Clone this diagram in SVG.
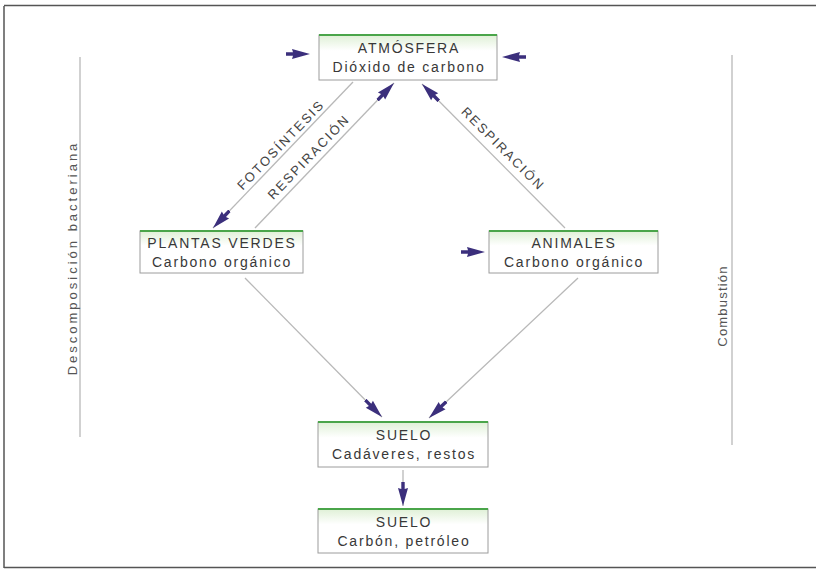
<svg xmlns="http://www.w3.org/2000/svg" width="816" height="570" viewBox="0 0 816 570">
<defs>
<linearGradient id="g" x1="0" y1="0" x2="0" y2="1">
<stop offset="0" stop-color="#dff0d6"/>
<stop offset="0.35" stop-color="#ffffff"/>
</linearGradient>
<marker id="ah" viewBox="0 0 24 12" refX="24" refY="6" markerWidth="24" markerHeight="12" markerUnits="userSpaceOnUse" orient="auto">
<path d="M0,4.3 L7,4.3 L6,1 L24,6 L6,11 L7,7.7 L0,7.7 Z" fill="#3b2f7c"/>
</marker>
</defs>
<style>
.box{fill:url(#g);stroke:#9c9c9c;stroke-width:1}
.top{stroke:#4aa54a;stroke-width:2}
.t{font-family:"Liberation Sans",Arial,sans-serif;font-size:14px;fill:#383838;text-anchor:middle;letter-spacing:1.8px}
.l{font-family:"Liberation Sans",Arial,sans-serif;font-size:13px;fill:#444;text-anchor:middle;letter-spacing:2px}
.v{font-family:"Liberation Sans",Arial,sans-serif;font-size:13px;fill:#555;text-anchor:middle}
.c{stroke:#b8b8b8;stroke-width:1.3;fill:none}
.fr{stroke:#555;stroke-width:1.5;fill:none}
</style>
<rect width="816" height="570" fill="#fff"/>
<g id="frame">
<path class="fr" d="M4,6 L4,568 M4,5.5 L816,5.5 M4,567.5 L816,567.5"/>
</g>
<g id="connectors">
<line class="c" x1="353" y1="82" x2="213" y2="228" marker-end="url(#ah)"/>
<line class="c" x1="255" y1="228" x2="394" y2="83" marker-end="url(#ah)"/>
<line class="c" x1="565" y1="228" x2="422" y2="84" marker-end="url(#ah)"/>
<line class="c" x1="245" y1="278" x2="382" y2="417" marker-end="url(#ah)"/>
<line class="c" x1="578" y1="278" x2="429" y2="418" marker-end="url(#ah)"/>
<line class="c" x1="403" y1="470" x2="403" y2="506" marker-end="url(#ah)"/>
<line x1="284" y1="54" x2="310" y2="54" stroke="none" marker-end="url(#ah)"/>
<line x1="528" y1="57" x2="502" y2="57" stroke="none" marker-end="url(#ah)"/>
<line x1="459" y1="252" x2="485" y2="252" stroke="none" marker-end="url(#ah)"/>
<line class="c" x1="80" y1="57" x2="80" y2="437"/>
<line class="c" x1="732" y1="55" x2="732" y2="445"/>
</g>
<g id="labels">
<text class="l" transform="translate(284,148) rotate(-46)">FOTOSÍNTESIS</text>
<text class="l" transform="translate(312,160) rotate(-46)">RESPIRACIÓN</text>
<text class="l" transform="translate(500,152) rotate(45)">RESPIRACIÓN</text>
<text class="v" style="letter-spacing:3px" transform="translate(77,258) rotate(-90)">Descomposición bacteriana</text>
<text class="v" style="letter-spacing:1.2px" transform="translate(727,306) rotate(-90)">Combustión</text>
</g>
<g id="atmosfera">
<rect class="box" x="319" y="35" width="178" height="45"/>
<line class="top" x1="319" y1="35" x2="497" y2="35"/>
<text class="t" x="409" y="53">ATMÓSFERA</text>
<text class="t" x="409" y="72">Dióxido de carbono</text>
</g>
<g id="plantas">
<rect class="box" x="140" y="231" width="163" height="42"/>
<line class="top" x1="140" y1="231" x2="303" y2="231"/>
<text class="t" x="222" y="248">PLANTAS VERDES</text>
<text class="t" x="222" y="267">Carbono orgánico</text>
</g>
<g id="animales">
<rect class="box" x="489" y="231" width="169" height="42"/>
<line class="top" x1="489" y1="231" x2="658" y2="231"/>
<text class="t" x="574" y="248">ANIMALES</text>
<text class="t" x="574" y="267">Carbono orgánico</text>
</g>
<g id="suelo1">
<rect class="box" x="318" y="422" width="170" height="45"/>
<line class="top" x1="318" y1="422" x2="488" y2="422"/>
<text class="t" x="404" y="440">SUELO</text>
<text class="t" x="404" y="459">Cadáveres, restos</text>
</g>
<g id="suelo2">
<rect class="box" x="318" y="509" width="170" height="44"/>
<line class="top" x1="318" y1="509" x2="488" y2="509"/>
<text class="t" x="404" y="527">SUELO</text>
<text class="t" x="404" y="546">Carbón, petróleo</text>
</g>
</svg>
